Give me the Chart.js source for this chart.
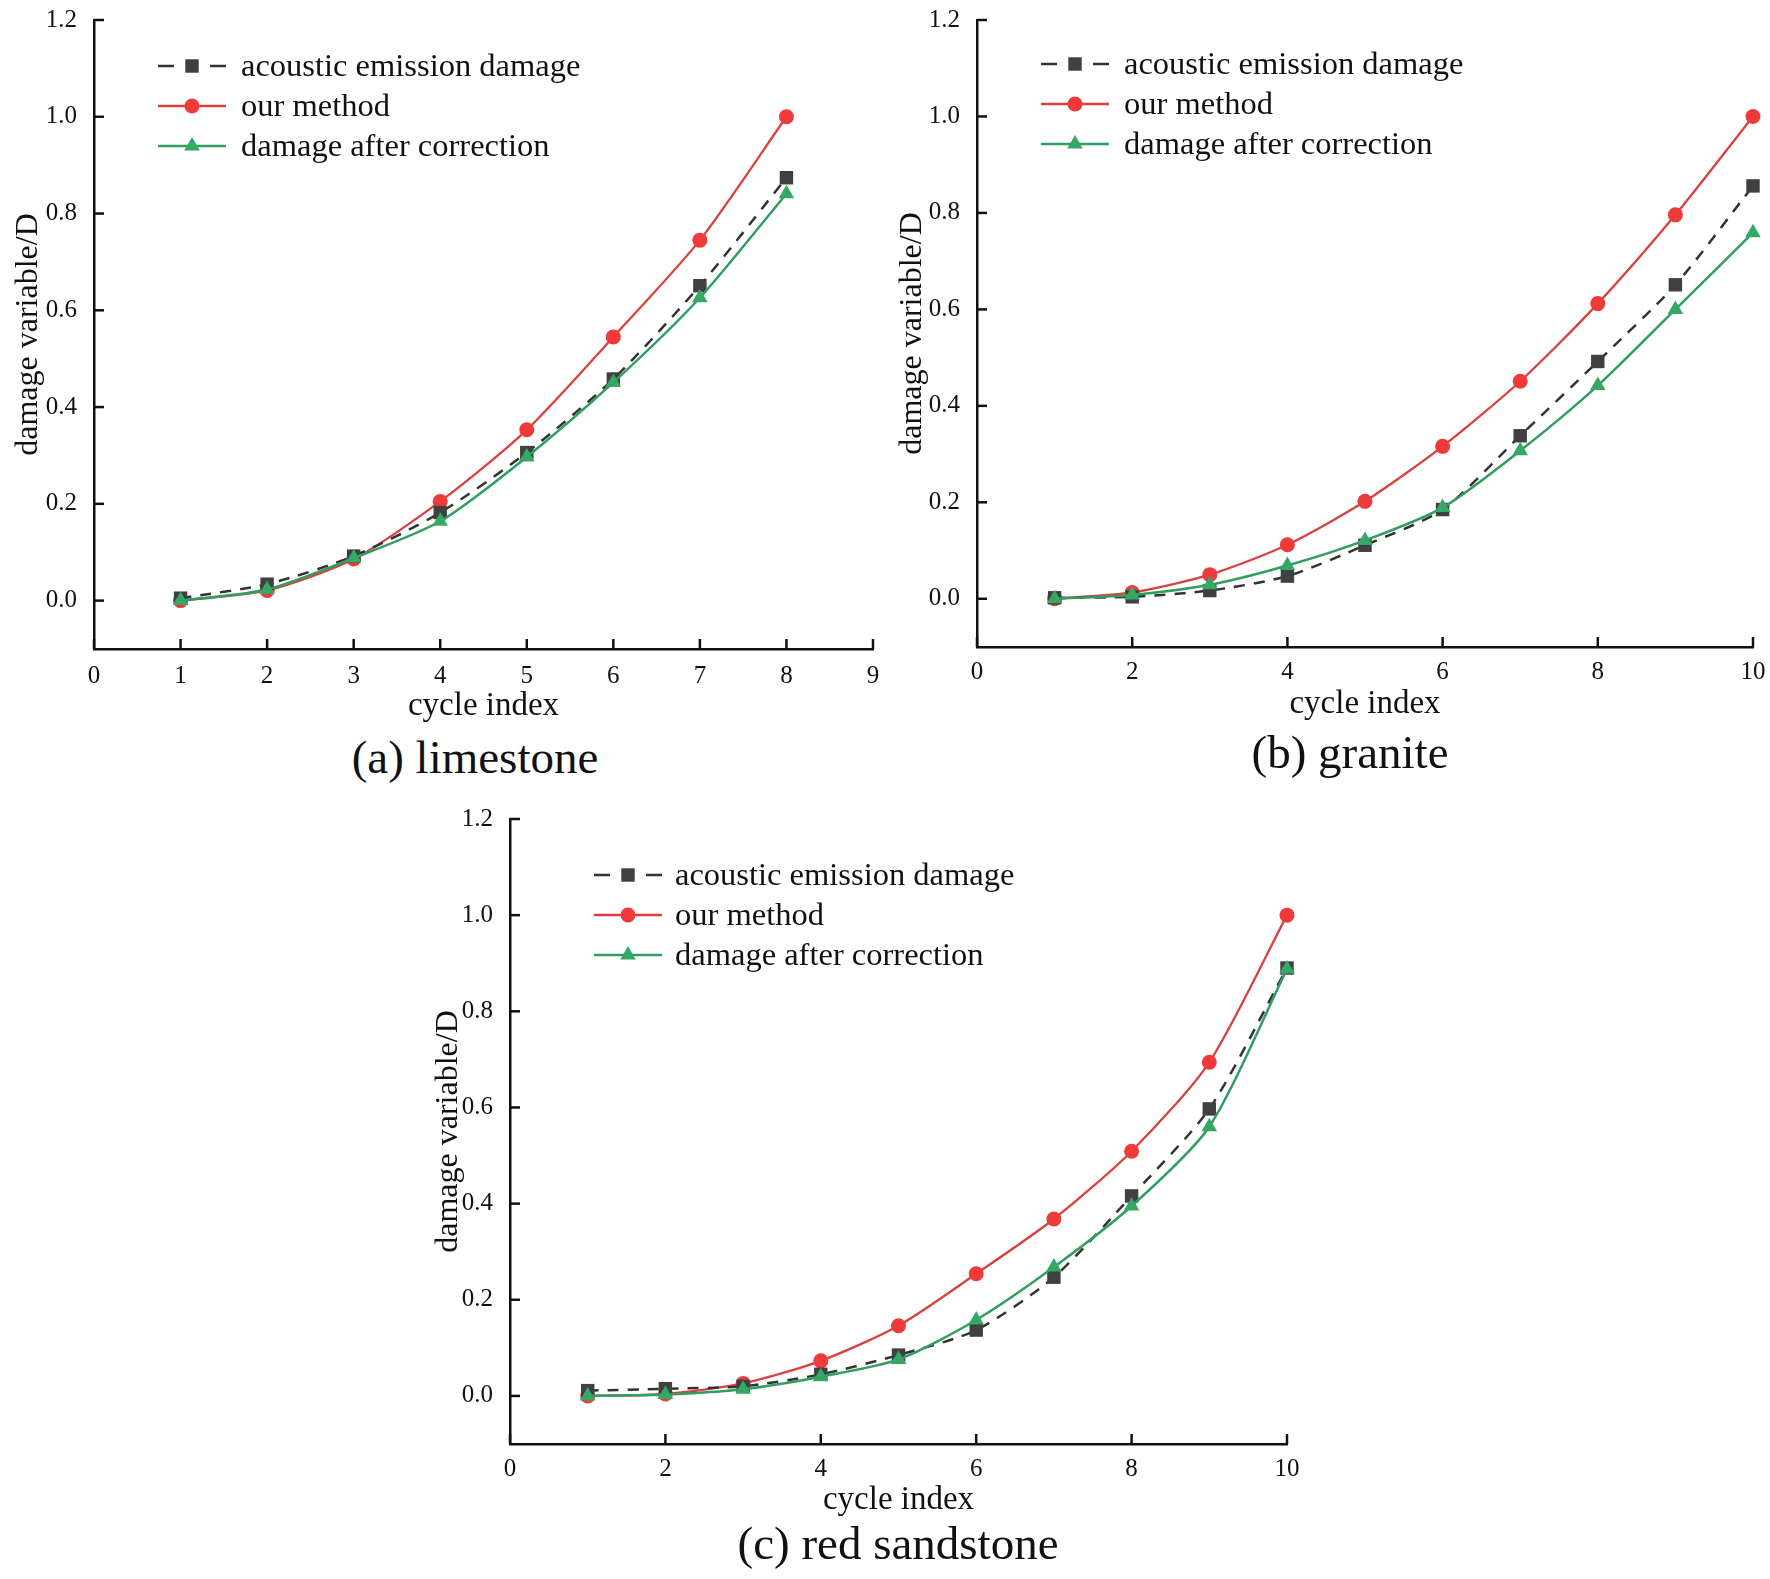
<!DOCTYPE html>
<html lang="en">
<head>
<meta charset="UTF-8">
<title>Damage variable vs cycle index</title>
<script src="https://cdn.jsdelivr.net/npm/chart.js"></script>
<style>
  body { margin: 0; background: #fff; }
  #page { position: relative; width: 1770px; height: 1579px; background: #fff; }
  .panel { position: absolute; }
  .sub { position: absolute; font-family: "Liberation Serif", "Times New Roman", serif;
         font-size: 47px; line-height: 1; color: #111; transform: translate(-50%, -50%); white-space: nowrap; }
</style>
</head>
<body>
<div id="page">
  <div class="panel" style="left:0px;top:0px;width:900px;height:729px"><canvas id="chartA"></canvas></div>
  <div class="panel" style="left:885px;top:0px;width:885px;height:727px"><canvas id="chartB"></canvas></div>
  <div class="panel" style="left:418px;top:799px;width:896px;height:725px"><canvas id="chartC"></canvas></div>
  <div class="sub" style="left:475px;top:757px">(a) limestone</div>
  <div class="sub" style="left:1350px;top:752px">(b) granite</div>
  <div class="sub" style="left:898px;top:1543px">(c) red sandstone</div>
</div>

<script>
// series names
const seriesNames = ['acoustic emission damage', 'our method', 'damage after correction'];

// (a) limestone
const cyclesA = [1, 2, 3, 4, 5, 6, 7, 8];
const aeA   = [0.005, 0.034, 0.092, 0.182, 0.306, 0.458, 0.651, 0.874];
const oursA = [0.0, 0.021, 0.086, 0.205, 0.353, 0.545, 0.745, 1.0];
const corrA = [0.0, 0.023, 0.088, 0.164, 0.297, 0.451, 0.626, 0.841];

// (b) granite
const cyclesB = [1, 2, 3, 4, 5, 6, 7, 8, 9, 10];
const aeB   = [0.002, 0.004, 0.017, 0.047, 0.111, 0.185, 0.338, 0.492, 0.651, 0.856];
const oursB = [0.0, 0.013, 0.050, 0.112, 0.202, 0.316, 0.451, 0.612, 0.796, 1.0];
const corrB = [0.0, 0.008, 0.029, 0.069, 0.121, 0.189, 0.307, 0.442, 0.600, 0.759];

// (c) red sandstone
const cyclesC = [1, 2, 3, 4, 5, 6, 7, 8, 9, 10];
const aeC   = [0.011, 0.015, 0.020, 0.045, 0.085, 0.137, 0.247, 0.416, 0.597, 0.890];
const oursC = [0.0, 0.004, 0.026, 0.073, 0.146, 0.254, 0.368, 0.509, 0.694, 1.0];
const corrC = [0.0, 0.003, 0.014, 0.040, 0.076, 0.158, 0.268, 0.395, 0.560, 0.888];

// tick settings
const yTicks = { min: -0.1, max: 1.2, step: 0.2 };
const xTicksA = { min: 0, max: 9, step: 1 };
const xTicksBC = { min: 0, max: 10, step: 2 };

const FONT = '"Liberation Serif", "Times New Roman", serif';

function pts(xs, ys) { return xs.map((x, i) => ({ x: x, y: ys[i] })); }

function drawMarker(ctx, style, x, y, r, color) {
  ctx.save();
  ctx.fillStyle = color;
  ctx.beginPath();
  if (style === 'rect') {
    const s = Math.SQRT1_2 * r;
    ctx.rect(x - s, y - s, 2 * s, 2 * s);
  } else if (style === 'circle') {
    ctx.arc(x, y, r, 0, Math.PI * 2);
  } else {
    ctx.moveTo(x, y - r);
    ctx.lineTo(x + r * 0.866, y + r * 0.5);
    ctx.lineTo(x - r * 0.866, y + r * 0.5);
    ctx.closePath();
  }
  ctx.fill();
  ctx.restore();
}

// inward tick marks
const innerTicks = {
  id: 'innerTicks',
  afterDraw(chart) {
    const ctx = chart.ctx;
    const xs = chart.scales.x, ys = chart.scales.y;
    const len = 10;
    ctx.save();
    ctx.strokeStyle = '#111';
    ctx.lineWidth = 2.5;
    xs.ticks.forEach(t => {
      const px = xs.getPixelForValue(t.value);
      ctx.beginPath();
      ctx.moveTo(px, xs.top);
      ctx.lineTo(px, xs.top - len);
      ctx.stroke();
    });
    ys.ticks.forEach(t => {
      const py = ys.getPixelForValue(t.value);
      ctx.beginPath();
      ctx.moveTo(ys.right, py);
      ctx.lineTo(ys.right + len, py);
      ctx.stroke();
    });
    ctx.restore();
  }
};

// legend inside the plot area (line + marker + text)
const innerLegend = {
  id: 'innerLegend',
  afterDraw(chart, args, opts) {
    const ctx = chart.ctx;
    const area = chart.chartArea;
    ctx.save();
    ctx.font = '32.5px ' + FONT;
    ctx.textBaseline = 'middle';
    ctx.fillStyle = '#111';
    chart.data.datasets.forEach((ds, i) => {
      const y = area.top + opts.rowTop + i * opts.rowGap;
      const x0 = area.left + opts.lineLeft;
      const x1 = x0 + 68;
      ctx.strokeStyle = ds.borderColor;
      ctx.lineWidth = ds.borderWidth;
      ctx.beginPath();
      if (ds.borderDash) {
        ctx.moveTo(x0, y); ctx.lineTo(x0 + 16, y);
        ctx.moveTo(x1 - 16, y); ctx.lineTo(x1, y);
      } else {
        ctx.moveTo(x0, y); ctx.lineTo(x1, y);
      }
      ctx.stroke();
      drawMarker(ctx, ds.pointStyle, (x0 + x1) / 2, y, ds.pointRadius, ds.pointBackgroundColor);
      ctx.fillText(seriesNames[i], area.left + opts.textLeft, y + 1);
    });
    ctx.restore();
  }
};

function makeChart(id, xs, ae, ours, corr, xt, lay) {
  return new Chart(document.getElementById(id), {
    type: 'line',
    data: {
      datasets: [{
        label: seriesNames[0],
        data: pts(xs, ae),
        borderColor: '#333333',
        borderWidth: 2.5,
        borderDash: [11, 9],
        pointStyle: 'rect',
        pointRadius: 9.5,
        pointBackgroundColor: '#404040',
        pointBorderWidth: 0,
        tension: 0.25,
        clip: false,
        order: 1
      }, {
        label: seriesNames[1],
        data: pts(xs, ours),
        borderColor: '#d9413f',
        borderWidth: 2.3,
        pointStyle: 'circle',
        pointRadius: 7.5,
        pointBackgroundColor: '#ef3a3a',
        pointBorderWidth: 0,
        tension: 0.25,
        clip: false,
        order: 2
      }, {
        label: seriesNames[2],
        data: pts(xs, corr),
        borderColor: '#2f9e5f',
        borderWidth: 2.5,
        pointStyle: 'triangle',
        pointRadius: 9,
        pointBackgroundColor: '#35a865',
        pointBorderWidth: 0,
        tension: 0.25,
        clip: false,
        order: 0
      }]
    },
    options: {
      responsive: true,
      maintainAspectRatio: false,
      animation: false,
      layout: { padding: { top: 20, right: lay.padRight, left: 0, bottom: 0 } },
      plugins: {
        legend: { display: false },
        tooltip: { enabled: false },
        innerLegend: lay.legend
      },
      scales: {
        x: {
          type: 'linear',
          min: xt.min, max: xt.max,
          grid: { display: false, drawTicks: false },
          border: { display: true, color: '#111', width: 2.5 },
          ticks: { stepSize: xt.step, padding: lay.xTickPad, color: '#111', font: { family: FONT, size: 25 } },
          title: { display: true, text: 'cycle index', color: '#111', font: { family: FONT, size: 33 }, padding: { top: 0, bottom: lay.xTitlePad } },
          afterFit(s) { s.height = lay.xHeight; s.paddingLeft = 0; s.paddingRight = 0; }
        },
        y: {
          min: yTicks.min, max: yTicks.max,
          grid: { display: false, drawTicks: false },
          border: { display: true, color: '#111', width: 2.5 },
          ticks: { stepSize: yTicks.step, includeBounds: false, padding: 17, color: '#111',
                   font: { family: FONT, size: 25 }, callback: v => Number(v).toFixed(1) },
          title: { display: true, text: 'damage variable/D', color: '#111', font: { family: FONT, size: 32 }, padding: { top: lay.yTitlePad, bottom: 0 } },
          afterFit(s) { s.width = lay.yWidth; s.paddingTop = 0; s.paddingBottom = 0; }
        }
      }
    },
    plugins: [innerTicks, innerLegend]
  });
}

makeChart('chartA', cyclesA, aeA, oursA, corrA, xTicksA, {
  padRight: 27, yWidth: 94, xHeight: 80, xTickPad: 12, xTitlePad: 3, yTitlePad: 9.5,
  legend: { rowTop: 46, rowGap: 40, lineLeft: 64, textLeft: 147 }
});
makeChart('chartB', cyclesB, aeB, oursB, corrB, xTicksBC, {
  padRight: 17, yWidth: 92, xHeight: 80, xTickPad: 10, xTitlePad: 3, yTitlePad: 8.5,
  legend: { rowTop: 44, rowGap: 40, lineLeft: 64, textLeft: 147 }
});
makeChart('chartC', cyclesC, aeC, oursC, corrC, xTicksBC, {
  padRight: 27, yWidth: 92, xHeight: 80, xTickPad: 10, xTitlePad: 4, yTitlePad: 11.5,
  legend: { rowTop: 56, rowGap: 40, lineLeft: 84, textLeft: 165 }
});
</script>
</body>
</html>
